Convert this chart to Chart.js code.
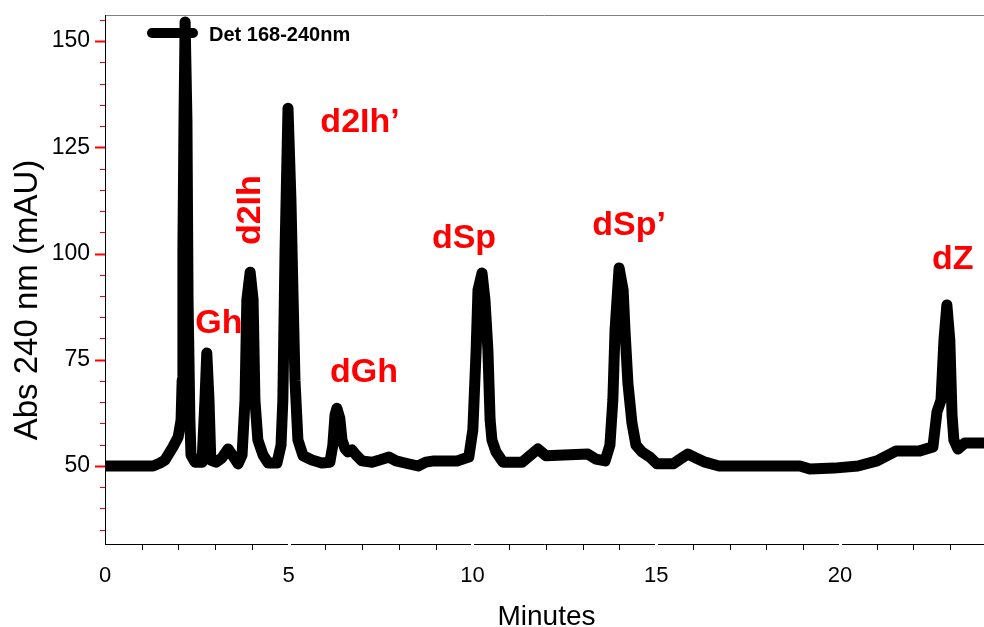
<!DOCTYPE html>
<html>
<head>
<meta charset="utf-8">
<title>Det 168-240nm chromatogram</title>
<script src="https://cdn.jsdelivr.net/npm/chart.js@4.4.1/dist/chart.umd.min.js"></script>
<style>
  html, body { margin: 0; padding: 0; background: #fff; }
  #wrap { width: 984px; height: 627px; position: relative; }
</style>
</head>
<body>
<div id="wrap"><canvas id="chart"></canvas></div>
<script>
// retention time (min) and absorbance (mAU)
const timeMin = [
  0, 1.31, 1.50, 1.63, 1.85, 1.99, 2.07, 2.10, 2.12, 2.15, 2.18, 2.23, 2.26, 2.31, 2.34,
  2.45, 2.64, 2.72, 2.77, 2.83, 2.88, 3.02, 3.18, 3.35, 3.48, 3.62, 3.73, 3.81, 3.86,
  3.95, 4.03, 4.08, 4.16, 4.30, 4.44, 4.68, 4.79, 4.84, 4.90, 4.98, 5.06, 5.12, 5.17,
  5.25, 5.39, 5.63, 5.90, 6.12, 6.20, 6.26, 6.31, 6.39, 6.45, 6.53, 6.61, 6.72, 6.83,
  6.99, 7.27, 7.54, 7.73, 7.92, 8.16, 8.52, 8.73, 8.95, 9.58, 9.90, 10.01, 10.10, 10.15,
  10.26, 10.34, 10.42, 10.48, 10.53, 10.64, 10.83, 11.35, 11.56, 11.78, 12.00, 13.14,
  13.36, 13.61, 13.74, 13.82, 13.88, 13.99, 14.10, 14.15, 14.23, 14.34, 14.45, 14.61,
  14.83, 15.02, 15.46, 15.70, 15.86, 16.08, 16.33, 16.71, 18.91, 19.18, 19.84, 20.49,
  21.01, 21.52, 22.15, 22.53, 22.64, 22.75, 22.83, 22.91, 22.99, 23.05, 23.10, 23.21,
  23.40, 23.92
];
const absMAU = [
  50, 50, 50.7, 51.4, 54.5, 56.8, 60.8, 70.2, 100.8, 131.4, 154.5, 131.4, 89.1, 60.8, 52.6,
  50.9, 50.9, 65.5, 76.6, 65.5, 51.4, 50.9, 51.9, 54.0, 52.4, 50.5, 52.6, 65.5, 89.1,
  95.6, 89.1, 65.5, 56.1, 52.6, 50.7, 50.7, 54.9, 65.5, 100.8, 134.2, 112.6, 89.1, 70.2,
  56.1, 52.4, 51.4, 50.7, 50.9, 54.9, 62.0, 63.6, 61.2, 56.1, 54.1, 53.3, 53.8, 52.6,
  51.2, 50.9, 51.6, 52.1, 51.2, 50.7, 50, 50.9, 51.2, 51.2, 52.1, 58.5, 77.3, 91.4,
  95.4, 89.1, 77.3, 60.8, 56.1, 53.3, 50.9, 50.9, 52.4, 54.0, 52.4, 52.8,
  51.6, 51.2, 54.9, 65.5, 82.0, 96.6, 91.4, 82.0, 69.5, 60.1, 54.9, 53.3,
  52.1, 50.5, 50.5, 51.9, 52.8, 51.9, 50.9, 50, 50, 49.3, 49.5, 50,
  51.2, 53.5, 53.5, 54.5, 62.7, 65.5, 79.6, 87.9, 79.6, 62.0, 56.1, 54.0,
  55.4, 55.4
];

const seriesName = 'Det 168-240nm';
const xTickLabels = [0, 5, 10, 15, 20];
const yTickLabels = [50, 75, 100, 125, 150];

// peak names and where they sit (min, mAU)
const peakNames = ['Gh', 'd2Ih', 'd2Ih\u2019', 'dGh', 'dSp', 'dSp\u2019', 'dZ'];
const peakTime  = [3.10, 3.95, 6.94, 7.05, 9.77, 14.26, 23.07];
const peakAbs   = [83.4, 110.2, 130.7, 71.9, 103.6, 106.5, 98.5];

const FONT = '"Liberation Sans", Arial, sans-serif';

const decor = {
  id: 'decor',
  afterDraw(chart) {
    const { ctx, chartArea: a, scales: { x, y } } = chart;
    ctx.save();

    // frame: grey top, black left and bottom
    ctx.lineWidth = 1;
    ctx.strokeStyle = '#7f7f7f';
    ctx.beginPath();
    ctx.moveTo(a.left, a.top + 0.5);
    ctx.lineTo(a.right, a.top + 0.5);
    ctx.stroke();
    ctx.strokeStyle = '#000';
    ctx.beginPath();
    ctx.moveTo(a.left + 0.5, a.top);
    ctx.lineTo(a.left + 0.5, a.bottom);
    ctx.moveTo(a.left, a.bottom - 0.5);
    ctx.lineTo(a.right, a.bottom - 0.5);
    ctx.stroke();

    // x ticks: minor marks, small breaks at labelled ones
    x.ticks.forEach(t => {
      const px = Math.round(x.getPixelForValue(t.value));
      if (xTickLabels.includes(t.value)) {
        if (t.value > 0) ctx.clearRect(px - 1, a.bottom - 2, 3, 3);
        return;
      }
      ctx.beginPath();
      ctx.moveTo(px + 0.5, a.bottom);
      ctx.lineTo(px + 0.5, a.bottom + 5);
      ctx.stroke();
    });

    // y ticks in red
    ctx.strokeStyle = '#ff0000';
    y.ticks.forEach(t => {
      const py = Math.round(y.getPixelForValue(t.value)) + 0.5;
      const len = yTickLabels.includes(t.value) ? 10 : 5;
      ctx.lineWidth = yTickLabels.includes(t.value) ? 2 : 1;
      ctx.beginPath();
      ctx.moveTo(a.left - len, py);
      ctx.lineTo(a.left, py);
      ctx.stroke();
    });

    // legend
    ctx.lineWidth = 10;
    ctx.lineCap = 'round';
    ctx.strokeStyle = '#000';
    ctx.beginPath();
    ctx.moveTo(a.left + 47, a.top + 18);
    ctx.lineTo(a.left + 88, a.top + 18);
    ctx.stroke();
    ctx.fillStyle = '#000';
    ctx.font = 'bold 20px ' + FONT;
    ctx.textAlign = 'left';
    ctx.textBaseline = 'middle';
    ctx.fillText(seriesName, a.left + 104, a.top + 20);

    // peak names
    ctx.fillStyle = '#ff0000';
    ctx.font = 'bold 34px ' + FONT;
    ctx.textAlign = 'center';
    peakNames.forEach((name, i) => {
      const px = x.getPixelForValue(peakTime[i]);
      const py = y.getPixelForValue(peakAbs[i]);
      ctx.save();
      ctx.translate(px, py);
      if (name === 'd2Ih') ctx.rotate(-Math.PI / 2);
      ctx.fillText(name, 0, 0);
      ctx.restore();
    });

    // axis titles
    ctx.fillStyle = '#000';
    ctx.font = '33px ' + FONT;
    ctx.textBaseline = 'alphabetic';
    ctx.save();
    ctx.translate(37, (a.top + a.bottom) / 2 + 20);
    ctx.rotate(-Math.PI / 2);
    ctx.fillText('Abs 240 nm (mAU)', 0, 0);
    ctx.restore();
    ctx.font = '28px ' + FONT;
    ctx.fillText('Minutes', (a.left + a.right) / 2 + 2, 625);

    ctx.restore();
  }
};

new Chart(document.getElementById('chart'), {
  type: 'line',
  data: {
    datasets: [{
      label: seriesName,
      data: timeMin.map((t, i) => ({ x: t, y: absMAU[i] })),
      borderColor: '#000',
      borderWidth: 11,
      borderCapStyle: 'round',
      borderJoinStyle: 'round',
      pointRadius: 0,
      tension: 0,
      fill: false
    }]
  },
  options: {
    responsive: true,
    maintainAspectRatio: false,
    animation: false,
    layout: { padding: { top: 15, left: 0, right: 0, bottom: 0 } },
    plugins: {
      legend: { display: false },
      tooltip: { enabled: false }
    },
    scales: {
      x: {
        type: 'linear',
        min: 0,
        max: 23.92,
        afterFit: s => { s.height = 82; s.paddingLeft = 0; s.paddingRight = 0; },
        grid: { display: false, drawTicks: false },
        border: { display: false },
        ticks: {
          stepSize: 1,
          includeBounds: false,
          autoSkip: false,
          maxRotation: 0,
          padding: 18,
          color: '#000',
          font: { family: FONT, size: 22 },
          callback: v => xTickLabels.includes(v) ? String(v) : ''
        }
      },
      y: {
        min: 31.41,
        max: 156.12,
        afterFit: s => { s.width = 105; s.paddingTop = 0; s.paddingBottom = 0; },
        grid: { display: false, drawTicks: false },
        border: { display: false },
        ticks: {
          stepSize: 5,
          includeBounds: false,
          autoSkip: false,
          padding: 15,
          color: '#000',
          font: { family: FONT, size: 23 },
          callback: v => yTickLabels.includes(v) ? String(v) : ''
        }
      }
    }
  },
  plugins: [decor]
});
</script>
</body>
</html>
